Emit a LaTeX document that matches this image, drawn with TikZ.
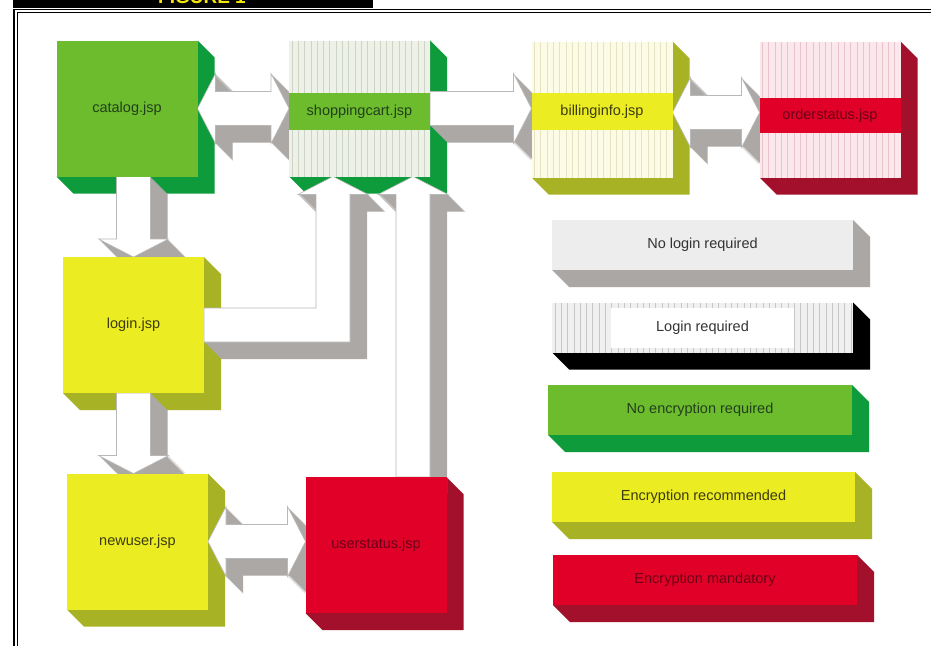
\documentclass[tikz,border=0pt]{standalone}
\usepackage{fontspec}
\setmainfont{Liberation Sans}
\usetikzlibrary{calc}

\pgfdeclarelayer{paper}
\pgfdeclarelayer{boxside}
\pgfdeclarelayer{arrowside}
\pgfdeclarelayer{arrowface}
\pgfsetlayers{paper,boxside,arrowside,arrowface,main}

% palette
\definecolor{fgreen}{HTML}{6CBC2E}
\definecolor{sgreen}{HTML}{0E9B3C}
\definecolor{fyellow}{HTML}{ECEC22}
\definecolor{syellow}{HTML}{A7B324}
\definecolor{fred}{HTML}{E10028}
\definecolor{sred}{HTML}{A3102B}
\definecolor{cartbg}{HTML}{EEF1E8}
\definecolor{cartln}{HTML}{CDD3C5}
\definecolor{billbg}{HTML}{FCFBE5}
\definecolor{billln}{HTML}{E6E3C4}
\definecolor{ordbg}{HTML}{FAE8EC}
\definecolor{ordln}{HTML}{E8C3CB}
\definecolor{lgrey}{HTML}{EDEDED}
\definecolor{sgrey}{HTML}{ABA7A5}
\definecolor{lgbg}{HTML}{F0F0F0}
\definecolor{lgln}{HTML}{C6C6C6}
\definecolor{arrowgrey}{HTML}{ABA8A6}
\definecolor{arrowedge}{HTML}{B8B8B8}
\definecolor{figyellow}{HTML}{F5E50A}
\definecolor{txtgreen}{HTML}{22401A}
\definecolor{txtolive}{HTML}{3C3C10}
\definecolor{txtred}{HTML}{6A0018}
\definecolor{txtgrey}{HTML}{333333}

\newcommand\lblfont{\fontsize{14.5}{17}\selectfont}

\tikzset{
  frontface/.style={rectangle, inner sep=0pt, outer sep=0pt,
    minimum width=141, minimum height=136, font=\lblfont, align=center},
  legbar/.style={rectangle, inner sep=0pt, outer sep=0pt,
    minimum height=50, font=\lblfont},
  band/.style={rectangle, inner sep=0pt, outer sep=0pt,
    minimum width=141, font=\lblfont},
  striped/.style 2 args={fill=#1, path picture={
    \foreach \i in {0,...,60}{
      \draw[#2, line width=0.7]
        ([xshift=\i*6.3pt+3pt]path picture bounding box.north west) --
        ([xshift=\i*6.3pt+3pt]path picture bounding box.south west);}}},
}

% right and bottom faces of a solid block, behind its front face
\newcommand\extrude[2]{%
  \begin{pgfonlayer}{boxside}
    \fill[#2] (#1.north east) -- ++(17,17) -- ($(#1.south east)+(17,17)$)
      -- ($(#1.south west)+(17,17)$) -- (#1.south west) -- (#1.south east) -- cycle;
  \end{pgfonlayer}}

% white block arrow with a grey extrusion towards the lower right
\newcommand\blockarrow[1]{%
  \begin{pgfonlayer}{arrowside}
    \foreach \k in {1,...,17}{\fill[arrowgrey, transform canvas={shift={(\k,\k)}}] #1;}
  \end{pgfonlayer}
  \begin{pgfonlayer}{arrowface}
    \filldraw[fill=white, draw=arrowedge, line width=0.6] #1;
  \end{pgfonlayer}}

\begin{document}
\begin{tikzpicture}[x=1pt,y=-1pt]
\useasboundingbox (0,0) rectangle (931,645);
\begin{pgfonlayer}{paper}
  \fill[white] (0,0) rectangle (931,645);
\end{pgfonlayer}

% ---- header tab and frame ----
\begin{scope}
  \clip (13,0) rectangle (373,8);
  \fill[black] (13,0) rectangle (373,8);
  \node[font=\bfseries\fontsize{19}{19}\selectfont, text=figyellow, anchor=base]
    (figtitle) at (202,4) {FIGURE 1};
\end{scope}
\draw[line width=1.8] (14.3,650) -- (14.3,9.5) -- (935,9.5);
\draw[line width=0.9] (17.3,650) -- (17.3,12.4) -- (935,12.4);

% ---- page blocks ----
\node[frontface, fill=fgreen, text=txtgreen] (cat) at (127,108.5) {catalog.jsp};
\extrude{cat}{sgreen}

\node[frontface, striped={cartbg}{cartln}] (cart) at (359.5,108.5) {};
\extrude{cart}{sgreen}
\node[band, fill=fgreen, minimum height=37, text=txtgreen] (cartband)
  at ($(cart.center)+(0,3)$) {shoppingcart.jsp};

\node[frontface, striped={billbg}{billln}] (bill) at (602,109.5) {};
\extrude{bill}{syellow}
\node[band, fill=fyellow, minimum height=37, text=txtolive] (billband)
  at ($(bill.center)+(0,2)$) {billinginfo.jsp};

\node[frontface, striped={ordbg}{ordln}] (order) at (830,109.5) {};
\extrude{order}{sred}
\node[band, fill=fred, minimum height=35, text=txtred] (orderband)
  at ($(order.center)+(0,6)$) {orderstatus.jsp};

\node[frontface, fill=fyellow, text=txtolive] (login) at (133.5,325) {login.jsp};
\extrude{login}{syellow}

\node[frontface, fill=fyellow, text=txtolive] (newuser) at (137.5,541.5) {newuser.jsp};
\extrude{newuser}{syellow}

\node[frontface, fill=fred, text=txtred] (userst) at (376,545) {userstatus.jsp};
\extrude{userst}{sred}

% ---- legend ----
\node[legbar, minimum width=301, fill=lgrey, text=txtgrey] (lgnologin) at (702.5,245) {No login required};
\extrude{lgnologin}{sgrey}

\node[legbar, minimum width=301, striped={lgbg}{lgln}] (lglogin) at (702.5,327.5) {};
\extrude{lglogin}{black}
\node[rectangle, inner sep=0pt, fill=white, minimum width=183, minimum height=40,
  font=\lblfont, text=txtgrey] (lgloginlbl) at (lglogin.center) {Login required};

\node[legbar, minimum width=304, fill=fgreen, text=txtgreen] (lgnoenc) at (700,410) {No encryption required};
\extrude{lgnoenc}{sgreen}

\node[legbar, minimum width=303, fill=fyellow, text=txtolive] (lgencrec) at (703.5,497) {Encryption recommended};
\extrude{lgencrec}{syellow}

\node[legbar, minimum width=304, fill=fred, text=txtred] (lgencman) at (705,580) {Encryption mandatory};
\extrude{lgencman}{sred}

% ---- connectors ----
% catalog <-> shoppingcart
\coordinate (a1s) at (cat.east);
\coordinate (a1t) at (cat.east -| cart.west);
\blockarrow{(a1s) -- ++(18,-35) -- ++(0,18) -- ($(a1t)+(-18,-17)$) -- ++(0,-18) -- (a1t)
  -- ++(-18,35) -- ++(0,-18) -- ($(a1s)+(18,17)$) -- ++(0,18) -- cycle}

% shoppingcart -> billinginfo
\coordinate (a2s) at (cart.east);
\coordinate (a2t) at (cart.east -| bill.west);
\blockarrow{($(a2s)+(0,-17)$) -- ($(a2t)+(-18,-17)$) -- ++(0,-18) -- (a2t)
  -- ++(-18,35) -- ++(0,-18) -- ($(a2s)+(0,17)$) -- cycle}

% billinginfo <-> orderstatus
\coordinate (a3s) at ($(bill.east)+(0,3)$);
\coordinate (a3t) at (a3s -| order.west);
\blockarrow{(a3s) -- ++(18,-35) -- ++(0,18) -- ($(a3t)+(-18,-17)$) -- ++(0,-18) -- (a3t)
  -- ++(-18,35) -- ++(0,-18) -- ($(a3s)+(18,17)$) -- ++(0,18) -- cycle}

% catalog -> login
\coordinate (a4s) at (login.north |- cat.south);
\coordinate (a4t) at (login.north);
\blockarrow{($(a4s)+(-17,0)$) -- ($(a4t)+(-17,-18)$) -- ++(-18,0) -- (a4t)
  -- ++(35,-18) -- ++(-18,0) -- ($(a4s)+(17,0)$) -- cycle}

% login -> newuser
\coordinate (a5s) at (login.south);
\coordinate (a5t) at (login.south |- newuser.north);
\blockarrow{($(a5s)+(-17,0)$) -- ($(a5t)+(-17,-18)$) -- ++(-18,0) -- (a5t)
  -- ++(35,-18) -- ++(-18,0) -- ($(a5s)+(17,0)$) -- cycle}

% newuser <-> userstatus
\coordinate (a6s) at (newuser.east);
\coordinate (a6t) at (newuser.east -| userst.west);
\blockarrow{(a6s) -- ++(18,-35) -- ++(0,18) -- ($(a6t)+(-18,-17)$) -- ++(0,-18) -- (a6t)
  -- ++(-18,35) -- ++(0,-18) -- ($(a6s)+(18,17)$) -- ++(0,18) -- cycle}

% login -> shoppingcart (elbow)
\coordinate (a7s) at (login.east);
\coordinate (a7t) at ($(cart.south west)+(44,0)$);
\coordinate (a7k) at (a7t |- a7s);
\blockarrow{($(a7s)+(0,-17)$) -- ($(a7k)+(-17,-17)$) -- ($(a7t)+(-17,18)$) -- ++(-18,0) -- (a7t)
  -- ++(35,18) -- ++(-18,0) -- ($(a7k)+(17,17)$) -- ($(a7s)+(0,17)$) -- cycle}

% userstatus -> shoppingcart
\coordinate (a8t) at ($(cart.south east)+(-17,0)$);
\coordinate (a8s) at (a8t |- userst.north);
\blockarrow{($(a8s)+(-17,0)$) -- ($(a8t)+(-17,18)$) -- ++(-18,0) -- (a8t)
  -- ++(35,18) -- ++(-18,0) -- ($(a8s)+(17,0)$) -- cycle}

\end{tikzpicture}
\end{document}
